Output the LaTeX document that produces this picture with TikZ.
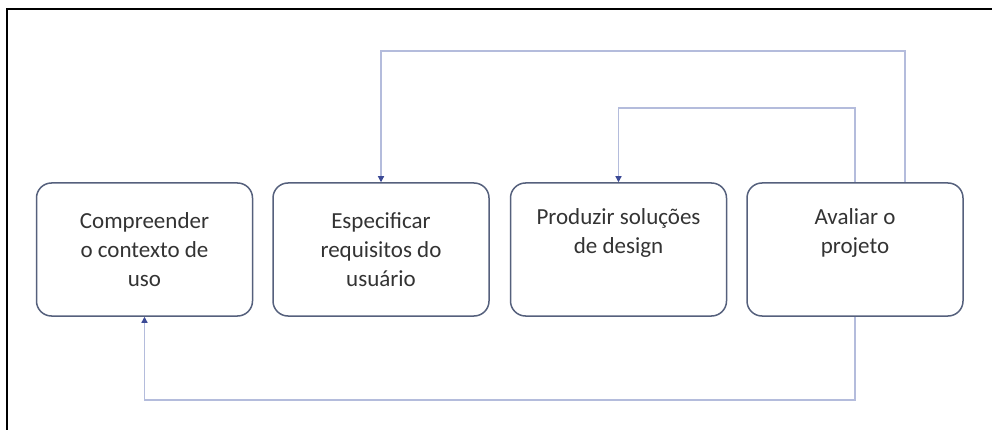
\documentclass[tikz,border=0pt]{standalone}
\usepackage{fontspec}
\setmainfont{Carlito}
\usetikzlibrary{arrows.meta}
\definecolor{boxline}{HTML}{55607C}
\definecolor{connc}{HTML}{B4BCDC}
\definecolor{tipc}{HTML}{3C4A96}
\definecolor{txt}{HTML}{333333}
\begin{document}
\begin{tikzpicture}[x=1pt,y=-1pt,
  box/.style={draw=boxline, line width=1.5pt, rounded corners=15pt,
    minimum width=216pt, minimum height=133pt, align=center, text=txt,
    font=\fontsize{23}{28.7}\selectfont, inner sep=0pt},
  conn/.style={draw=connc, line width=1.2pt, -{Triangle[length=6pt,width=6pt,color=tipc]}}]
\useasboundingbox (0,0) rectangle (992,430);
\draw[line width=2.8pt] (7,431) -- (7,9) -- (993,9);
\node[box] (b1) at (144.5,249.5) {Compreender\\o contexto de\\uso};
\node[box] (b2) at (381,249.5) {Especificar\\requisitos do\\usuário};
\node[box] (b3) at (618.5,249.5) {Produzir soluções\\de design\\\strut};
\node[box] (b4) at (855,249.5) {Avaliar o\\projeto\\\strut};
\coordinate (t1) at (905,51);
\coordinate (t2) at (0,108);
\coordinate (t3) at (0,400);
\draw[conn] (b4.north -| t1) -- (t1) -| (b2.north);
\draw[conn] (b4.north) -- (b4.north |- t2) -| (b3.north);
\draw[conn] (b4.south) -- (b4.south |- t3) -| (b1.south);
\end{tikzpicture}
\end{document}
